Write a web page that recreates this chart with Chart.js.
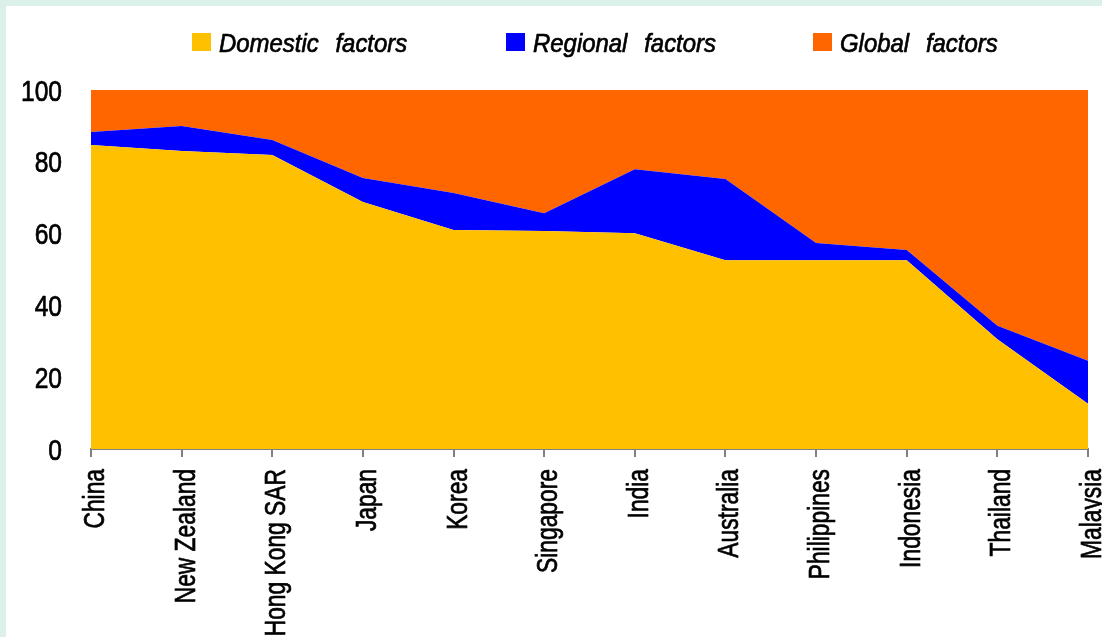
<!DOCTYPE html>
<html>
<head>
<meta charset="utf-8">
<script src="https://cdn.jsdelivr.net/npm/chart.js@4/dist/chart.umd.min.js"></script>
<style>
  html, body { margin: 0; padding: 0; background: #DAF0E8; width: 1102px; height: 637px; overflow: hidden; }
  #wrap { position: absolute; left: 6px; top: 6px; width: 1096px; height: 631px; background: #ffffff; }
  canvas { display: block; }
</style>
</head>
<body>
<div id="wrap"><canvas id="c" width="1096" height="631"></canvas></div>
<script>
const categories = ["China", "New Zealand", "Hong Kong SAR", "Japan", "Korea", "Singapore", "India", "Australia", "Philippines", "Indonesia", "Thailand", "Malaysia"];
const domestic = [84.7, 83.0, 81.9, 68.8, 61.0, 60.7, 60.1, 52.6, 52.6, 52.6, 30.6, 12.6];
const regional = [3.6, 7.0, 4.2, 6.7, 10.3, 5.0, 17.8, 22.6, 4.8, 2.8, 3.7, 12.0];
const global = [11.7, 10.0, 13.9, 24.5, 28.7, 34.3, 22.1, 24.8, 42.6, 44.6, 65.7, 75.4];
const seriesNames = ["Domestic factors", "Regional factors", "Global factors"];
const seriesColors = ["#FFC000", "#0000FF", "#FF6600"];
const yTicks = [0, 20, 40, 60, 80, 100];

const FONT = '"Liberation Sans", Arial, sans-serif';

function boldText(ctx, s, x, y) {
  ctx.fillText(s, x, y);
  ctx.strokeText(s, x, y);
}

// Draws condensed text (the reference uses a condensed face) using the library's scales for positions
const textPlugin = {
  id: 'condensedText',
  afterDraw(chart) {
    const ctx = chart.ctx;
    const xs = chart.scales.x, ys = chart.scales.y;
    ctx.save();
    ctx.fillStyle = '#000000';
    ctx.strokeStyle = '#000000';
    ctx.lineWidth = 0.7;
    ctx.lineJoin = 'round';

    // Legend
    const legendX = [186, 500, 807];
    ctx.font = 'italic 26px ' + FONT;
    ctx.textBaseline = 'alphabetic';
    ctx.textAlign = 'left';
    if ('wordSpacing' in ctx) ctx.wordSpacing = '11px';
    seriesNames.forEach((name, i) => {
      ctx.fillStyle = seriesColors[i];
      ctx.fillRect(legendX[i], 27, 19, 18);
      ctx.fillStyle = '#000000';
      ctx.save();
      ctx.translate(legendX[i] + 27, 46);
      ctx.scale(0.92, 1);
      boldText(ctx, name, 0, 0);
      ctx.restore();
    });
    if ('wordSpacing' in ctx) ctx.wordSpacing = '0px';

    // Y tick labels
    ctx.font = '30px ' + FONT;
    ctx.textAlign = 'right';
    ctx.textBaseline = 'alphabetic';
    yTicks.forEach(v => {
      const py = ys.getPixelForValue(v);
      ctx.save();
      ctx.translate(56, py + 10.5);
      ctx.scale(0.82, 1);
      boldText(ctx, String(v), 0, 0);
      ctx.restore();
    });

    // X tick labels (rotated, reading bottom to top)
    ctx.textAlign = 'right';
    ctx.textBaseline = 'alphabetic';
    xs.ticks.forEach((t, i) => {
      const px = xs.getPixelForTick(i);
      ctx.save();
      ctx.translate(px, ys.bottom + 20);
      ctx.rotate(-Math.PI / 2);
      ctx.scale(0.76, 1);
      boldText(ctx, categories[i], 0, 13);
      ctx.restore();
    });
    ctx.restore();
  }
};

const mk = (label, data, color, fill) => ({
  label, data, backgroundColor: color, borderColor: color, borderWidth: 0,
  pointRadius: 0, pointHoverRadius: 0, fill, tension: 0
});

new Chart(document.getElementById('c'), {
  type: 'line',
  data: {
    labels: categories,
    datasets: [
      mk(seriesNames[0], domestic, seriesColors[0], 'origin'),
      mk(seriesNames[1], regional, seriesColors[1], '-1'),
      mk(seriesNames[2], global, seriesColors[2], '-1')
    ]
  },
  options: {
    responsive: false,
    animation: false,
    events: [],
    layout: { padding: { top: 84, right: 14, left: 0, bottom: 0 } },
    plugins: { legend: { display: false }, tooltip: { enabled: false } },
    scales: {
      x: {
        offset: false,
        grid: { display: true, drawOnChartArea: false, drawTicks: true, tickLength: 8, color: '#808080', lineWidth: 2 },
        border: { display: true, color: '#808080', width: 2 },
        ticks: { display: false, autoSkip: false },
        afterFit(scale) { scale.height = 188; }
      },
      y: {
        stacked: true,
        min: 0, max: 100,
        afterBuildTicks(scale) { scale.ticks = yTicks.map(v => ({ value: v })); },
        grid: { display: false },
        border: { display: false },
        ticks: { display: false },
        afterFit(scale) { scale.width = 85; }
      }
    }
  },
  plugins: [textPlugin]
});
</script>
</body>
</html>
